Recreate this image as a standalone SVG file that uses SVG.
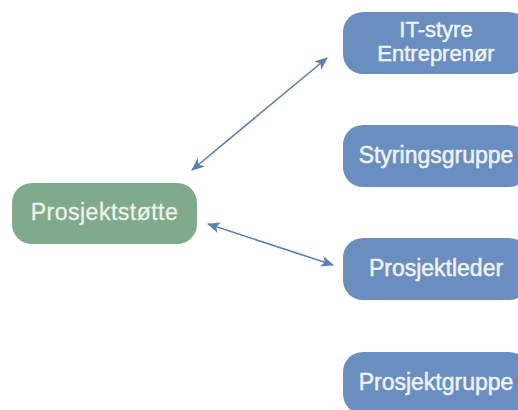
<svg xmlns="http://www.w3.org/2000/svg" width="518" height="410" viewBox="0 0 518 410">
  <style>
    .box-blue { fill: #6a8ec0; }
    .box-green { fill: #7faa8b; }
    .label { font-family: "Liberation Sans", Arial, sans-serif; font-size: 23px; fill: #eef3f8; stroke: #eef3f8; stroke-width: 0.5; text-anchor: middle; }
    .label-small { font-size: 22px; }
    .label-green { fill: #eef4ec; stroke: #eef4ec; stroke-width: 0.3; letter-spacing: 0.5px; }
    .link { stroke: #5b7fb4; stroke-width: 1.6; fill: none; marker-start: url(#head); marker-end: url(#head); }
  </style>
  <defs>
    <marker id="head" markerUnits="userSpaceOnUse" markerWidth="13" markerHeight="11" refX="12" refY="5.5" orient="auto-start-reverse" viewBox="0 0 13 11">
      <path d="M0,0 L13,5.5 L0,11 L3.5,5.5 Z" fill="#5b7fb4"/>
    </marker>
  </defs>
  <rect width="518" height="410" fill="#ffffff"/>

  <g id="connectors">
    <line class="link" x1="192" y1="170" x2="327" y2="58"/>
    <line class="link" x1="208" y1="224" x2="333" y2="265"/>
  </g>

  <g id="node-prosjektstotte">
    <rect class="box-green" x="12" y="183" width="185" height="61" rx="20" ry="20"/>
    <text class="label label-green" x="104.5" y="220">Prosjektstøtte</text>
  </g>

  <g id="node-it-styre">
    <rect class="box-blue" x="343" y="12" width="186" height="62" rx="20" ry="20"/>
    <text class="label label-small" x="436" y="37">IT-styre</text>
    <text class="label label-small" x="436" y="61">Entreprenør</text>
  </g>

  <g id="node-styringsgruppe">
    <rect class="box-blue" x="343" y="125" width="186" height="62" rx="20" ry="20"/>
    <text class="label" x="436" y="163">Styringsgruppe</text>
  </g>

  <g id="node-prosjektleder">
    <rect class="box-blue" x="343" y="238" width="186" height="62" rx="20" ry="20"/>
    <text class="label" x="436" y="276">Prosjektleder</text>
  </g>

  <g id="node-prosjektgruppe">
    <rect class="box-blue" x="343" y="352" width="186" height="62" rx="20" ry="20"/>
    <text class="label" x="436" y="390">Prosjektgruppe</text>
  </g>
</svg>
